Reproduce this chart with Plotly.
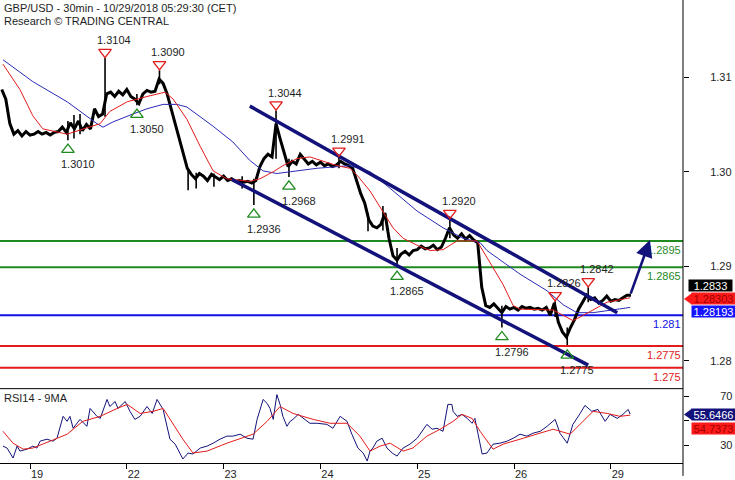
import plotly.graph_objects as go

FONT = "Arial, Liberation Sans, sans-serif"

# ---------------- data ----------------
title_line1 = "GBP/USD - 30min - 10/29/2018 05:29:30 (CET)"
title_line2 = "Research © TRADING CENTRAL"
rsi_title = "RSI14 - 9MA"

day_ticks = [0, 24, 48, 72, 96, 120, 144]          # session hours
day_labels = ["19", "22", "23", "24", "25", "26", "29"]

price_tick_vals = [1.3082, 1.2974, 1.2866, 1.2758]
price_tick_labels = ["1.31", "1.30", "1.29", "1.28"]

# hourly closes (session hours from the 19th)
price_hours = list(range(-7, 150))
price_close = [
    1.3068, 1.3057, 1.3029, 1.3017, 1.3021, 1.3015, 1.3020,
    1.3016, 1.3017, 1.3020, 1.3017, 1.3019, 1.3016, 1.3019, 1.3020, 1.3025, 1.3019,
    1.3030, 1.3023, 1.3032, 1.3021, 1.3028, 1.3023, 1.3046, 1.3037, 1.3040, 1.3063,
    1.3065, 1.3060, 1.3066, 1.3062, 1.3068, 1.3060, 1.3057, 1.3052, 1.3063, 1.3067,
    1.3065, 1.3066, 1.3080, 1.3075, 1.3063, 1.3046, 1.3029, 1.3012, 1.2995, 1.2978,
    1.2971, 1.2966, 1.2972, 1.2969, 1.2964, 1.2971, 1.2968, 1.2965, 1.2969, 1.2964,
    1.2966, 1.2963, 1.2964, 1.2962, 1.2963, 1.2961, 1.2964, 1.2980, 1.2989, 1.2994,
    1.2991, 1.3029, 1.3012, 1.2995, 1.2980, 1.2986, 1.2983, 1.2994, 1.2989, 1.2983,
    1.2986, 1.2982, 1.2985, 1.2981, 1.2983, 1.2980, 1.2982, 1.2986, 1.2983, 1.2981,
    1.2978, 1.2964, 1.2949, 1.2938, 1.2919, 1.2912, 1.2910, 1.2914, 1.2927, 1.2898,
    1.2878, 1.2873, 1.2880, 1.2883, 1.2879, 1.2884, 1.2885, 1.2889, 1.2886, 1.2887,
    1.2890, 1.2885, 1.2888, 1.2898, 1.2910, 1.2902, 1.2898, 1.2903, 1.2897, 1.2901,
    1.2896, 1.2893, 1.2842, 1.2821, 1.2819, 1.2823, 1.2818, 1.2813, 1.2820, 1.2817,
    1.2819, 1.2816, 1.2820, 1.2818, 1.2819, 1.2817, 1.2818, 1.2816, 1.2819, 1.2810,
    1.2824, 1.2802, 1.2791, 1.2785, 1.2796, 1.2805, 1.2817, 1.2825, 1.2833, 1.2828,
    1.2830, 1.2824, 1.2827, 1.2832, 1.2826, 1.2828, 1.2827, 1.2830, 1.2833, 1.2833,
]

# bar wicks (hour, high, low)
wick_hours = [9.4, 10.9, 12.4, 18.6, 26.5, 32.1, 39.2, 41.2, 45.6, 52.6, 55.5,
              61.0, 64.2, 76.6, 83.8, 87.5, 91.0, 104.1, 117.0, 130.2, 133.2, 138.4]
wick_high = [1.3032, 1.3039, 1.3040, 1.3104, 1.3063, 1.3090, 1.2978, 1.2973, 1.2972, 1.2969, 1.2966,
             1.3044, 1.2989, 1.2991, 1.2927, 1.2935, 1.2887, 1.2920, 1.2821, 1.2826, 1.2796, 1.2842]
wick_low = [1.3010, 1.3012, 1.3017, 1.3037, 1.3050, 1.3074, 1.2953, 1.2955, 1.2957, 1.2955, 1.2936,
            1.2989, 1.2968, 1.2978, 1.2906, 1.2907, 1.2865, 1.2898, 1.2796, 1.2808, 1.2776, 1.2825]

# moving averages
ma_fast_hours = [-6.7, -2.5, 0.7, 3.2, 9.2, 14.9, 17.4, 19.8, 24.1, 29.0, 33.5, 35.5, 38.9, 42.2,
                 45.4, 48.8, 54.5, 57.0, 60.3, 62.7, 66.2, 69.4, 72.7, 76.1, 79.3, 81.1, 84.3,
                 87.5, 90.0, 92.5, 96.0, 99.2, 102.4, 105.9, 110.8, 113.3, 117.3, 119.8, 121.5,
                 129.7, 132.2, 134.6, 136.4, 139.6, 143.1, 148.8]
ma_fast = [1.3097, 1.3068, 1.3038, 1.3023, 1.3017, 1.3025, 1.3029, 1.3043, 1.3054, 1.3060, 1.3065,
           1.3057, 1.3034, 1.3003, 1.2975, 1.2966, 1.2963, 1.2966, 1.2974, 1.2981, 1.2989, 1.2991,
           1.2986, 1.2981, 1.2978, 1.2970, 1.2952, 1.2929, 1.2910, 1.2898, 1.2890, 1.2884, 1.2885,
           1.2895, 1.2895, 1.2876, 1.2845, 1.2821, 1.2817, 1.2816, 1.2810, 1.2804, 1.2808, 1.2816,
           1.2825, 1.2830]
ma_slow_hours = [-6.7, 0.7, 9.2, 14.1, 16.6, 18.1, 20.6, 25.5, 29.0, 33.0, 36.4, 38.9, 45.4, 50.3,
                 54.5, 57.8, 61.2, 64.5, 71.2, 79.3, 84.3, 89.3, 96.0, 102.4, 107.4, 111.6, 113.3,
                 121.5, 128.2, 132.2, 135.6, 139.6, 144.6, 148.8]
ma_slow = [1.3102, 1.3077, 1.3054, 1.3037, 1.3029, 1.3025, 1.3031, 1.3040, 1.3046, 1.3051, 1.3051,
           1.3048, 1.3026, 1.3008, 1.2987, 1.2975, 1.2972, 1.2974, 1.2978, 1.2981, 1.2974, 1.2955,
           1.2929, 1.2910, 1.2898, 1.2893, 1.2884, 1.2857, 1.2838, 1.2822, 1.2813, 1.2813, 1.2816,
           1.2819]

# pivots
pivot_high_hours = [18.6, 32.1, 61.0, 76.6, 104.1, 130.2, 138.4]
pivot_high_values = [1.3104, 1.3090, 1.3044, 1.2991, 1.2920, 1.2826, 1.2842]
pivot_low_hours = [9.4, 26.5, 55.5, 64.2, 91.0, 117.0, 133.2]
pivot_low_values = [1.3010, 1.3050, 1.2936, 1.2968, 1.2865, 1.2796, 1.2775]

# channel (start/end hours and prices)
channel_upper_hours = [54.5, 145.6]
channel_upper_prices = [1.3049, 1.2813]
channel_lower_hours = [50.1, 138.4]
channel_lower_prices = [1.2965, 1.2753]

forecast_hours = [148.8, 153.7]
forecast_prices = [1.2833, 1.2896]

levels = [1.2895, 1.2865, 1.281, 1.2775, 1.275]
level_labels = ["1.2895", "1.2865", "1.281", "1.2775", "1.275"]

last_price_label = "1.2833"
ma_fast_label = "1.28303"
ma_slow_label = "1.28193"
rsi_label = "55.6466"
rsi_ma_label = "54.7373"

# RSI
rsi_hours = [-6.7, -5.7, -4.2, -3.2, -2.5, -0.7, 0.7, 1.7, 2.5, 4.2, 5.7, 6.7, 8.2, 9.2, 9.9, 10.7,
             12.4, 14.1, 14.9, 16.6, 17.4, 19.1, 19.8, 21.1, 21.8, 23.6, 24.8, 26.0, 27.3, 29.0,
             30.3, 31.5, 33.0, 34.0, 34.7, 36.0, 37.2, 37.9, 39.2, 40.4, 42.2, 43.9, 45.4, 47.1,
             48.8, 50.3, 52.1, 53.8, 55.3, 56.3, 57.8, 58.8, 59.5, 60.3, 61.2, 62.0, 62.7, 63.7,
             64.5, 65.2, 66.5, 67.7, 69.4, 71.2, 73.6, 75.1, 76.9, 78.6, 79.8, 81.3, 82.6, 83.6,
             84.3, 85.0, 86.0, 87.3, 88.5, 89.8, 91.0, 92.5, 94.2, 96.0, 97.2, 98.4, 99.7, 100.9,
             102.4, 103.6, 104.6, 104.9, 105.9, 107.1, 108.4, 109.6, 110.3, 111.1, 112.1, 113.3,
             114.8, 116.5, 118.3, 119.8, 121.5, 123.2, 124.7, 126.5, 128.2, 130.2, 131.4, 133.2,
             134.6, 136.4, 137.6, 139.3, 140.8, 142.6, 143.8, 145.6, 147.0, 148.3, 148.8]
rsi_values = [29.2, 27.6, 19.4, 29.2, 25.1, 26.7, 29.2, 27.6, 33.3, 34.9, 33.3, 35.7, 53.7, 49.6,
              53.7, 43.9, 51.2, 45.5, 60.2, 53.7, 52.0, 67.6, 61.8, 65.9, 60.2, 65.9, 57.8, 51.2,
              53.7, 61.8, 56.1, 67.6, 59.4, 45.5, 34.9, 30.8, 23.5, 18.6, 23.5, 22.7, 27.6, 29.2,
              31.6, 34.9, 37.4, 37.4, 39.0, 35.7, 34.9, 51.2, 67.6, 64.3, 60.2, 51.2, 71.6, 63.5,
              53.7, 45.5, 49.6, 51.2, 55.3, 52.0, 48.0, 48.0, 47.1, 43.9, 53.7, 49.6, 39.0, 27.6,
              23.5, 16.9, 25.1, 27.6, 33.3, 35.7, 27.6, 23.5, 21.0, 27.6, 30.8, 35.7, 41.4, 47.1,
              43.1, 43.9, 41.4, 63.5, 63.5, 57.8, 53.7, 55.3, 52.0, 48.0, 52.0, 39.0, 22.7, 23.5,
              30.8, 31.6, 33.3, 35.7, 39.0, 37.4, 39.8, 41.4, 45.5, 51.2, 39.8, 31.6, 47.1, 56.1,
              62.7, 57.8, 59.4, 49.6, 55.3, 52.0, 55.3, 59.4, 55.6]
rsi_ma_hours = [-6.7, -4.2, -1.7, 0.7, 5.0, 9.2, 13.1, 17.4, 21.6, 24.1, 27.3, 30.5, 33.0, 35.5,
                37.9, 40.4, 43.9, 48.8, 55.3, 58.8, 62.0, 65.2, 70.2, 74.4, 78.6, 81.8, 84.3,
                86.8, 89.3, 92.5, 94.9, 98.4, 101.7, 104.9, 107.1, 109.6, 111.6, 114.8, 117.3,
                121.5, 126.5, 129.7, 133.9, 136.4, 139.6, 143.1, 146.3, 148.8]
rsi_ma_values = [41.4, 31.6, 26.7, 27.6, 33.3, 39.0, 49.6, 53.7, 60.2, 63.5, 56.1, 57.8, 60.2, 47.1,
                 34.9, 23.5, 25.1, 31.6, 39.0, 49.6, 61.8, 56.1, 51.2, 48.0, 48.0, 37.4, 25.1, 29.2,
                 31.6, 25.1, 27.6, 37.4, 43.1, 49.6, 55.3, 52.0, 41.4, 26.7, 30.8, 34.9, 39.8, 43.1,
                 39.0, 47.1, 57.8, 56.1, 53.7, 54.7]

# ---------------- styling / layout constants ----------------
W, H = 735, 480
M_R, M_B = 52, 13
PLOT_W = W - M_R            # 683
PLOT_H = H - M_B            # 467
MAIN_H = 391
RSI_TOP = 392
X_RANGE = [-7.44, 161.9]
Y_RANGE = [1.27273, 1.31703]
RSI_RANGE = [15.3, 76.5]
PX = (Y_RANGE[1] - Y_RANGE[0]) / MAIN_H      # price per pixel

BLACK = "#000000"
NAVY = "#12127a"
RED = "#e31b1b"
GREEN = "#1f8a1f"
BLUE = "#1010e6"
MA_BLUE = "#2a2ab8"
TXT = "#1e1e1e"
level_colors = [GREEN, GREEN, BLUE, RED, RED]

fig = go.Figure()

# price line
fig.add_trace(go.Scatter(x=price_hours, y=price_close, mode="lines",
                         line=dict(color=BLACK, width=3), xaxis="x", yaxis="y",
                         hoverinfo="skip"))
# wicks
wx, wy = [], []
for h, hi, lo in zip(wick_hours, wick_high, wick_low):
    wx += [h, h, None]
    wy += [hi, lo, None]
fig.add_trace(go.Scatter(x=wx, y=wy, mode="lines", line=dict(color=BLACK, width=1.6),
                         xaxis="x", yaxis="y", hoverinfo="skip"))
# moving averages
fig.add_trace(go.Scatter(x=ma_slow_hours, y=ma_slow, mode="lines", line=dict(color=MA_BLUE, width=1),
                         xaxis="x", yaxis="y", hoverinfo="skip"))
fig.add_trace(go.Scatter(x=ma_fast_hours, y=ma_fast, mode="lines", line=dict(color=RED, width=1),
                         xaxis="x", yaxis="y", hoverinfo="skip"))
# channel
fig.add_trace(go.Scatter(x=channel_upper_hours, y=channel_upper_prices, mode="lines",
                         line=dict(color=NAVY, width=3.5), xaxis="x", yaxis="y", hoverinfo="skip"))
fig.add_trace(go.Scatter(x=channel_lower_hours, y=channel_lower_prices, mode="lines",
                         line=dict(color=NAVY, width=3.5), xaxis="x", yaxis="y", hoverinfo="skip"))
# pivot markers
fig.add_trace(go.Scatter(x=pivot_high_hours, y=[v + 6 * PX for v in pivot_high_values], mode="markers",
                         marker=dict(symbol="triangle-down-open", size=11, color=RED,
                                     line=dict(width=1.3, color=RED)),
                         xaxis="x", yaxis="y", hoverinfo="skip"))
fig.add_trace(go.Scatter(x=pivot_low_hours, y=[v - 9.5 * PX for v in pivot_low_values], mode="markers",
                         marker=dict(symbol="triangle-up-open", size=11, color=GREEN,
                                     line=dict(width=1.3, color=GREEN)),
                         xaxis="x", yaxis="y", hoverinfo="skip"))
# RSI
fig.add_trace(go.Scatter(x=rsi_hours, y=rsi_values, mode="lines", line=dict(color=NAVY, width=1),
                         xaxis="x2", yaxis="y2", hoverinfo="skip"))
fig.add_trace(go.Scatter(x=rsi_ma_hours, y=rsi_ma_values, mode="lines", line=dict(color=RED, width=1),
                         xaxis="x2", yaxis="y2", hoverinfo="skip"))

shapes = []
for lv, col in zip(levels, level_colors):
    shapes.append(dict(type="line", xref="x domain", yref="y", x0=0, x1=1, y0=lv, y1=lv,
                       line=dict(color=col, width=2), layer="below"))
# right axis line (full height)
shapes.append(dict(type="line", xref="paper", yref="paper", x0=1, x1=1, y0=-M_B / PLOT_H, y1=1,
                   line=dict(color=BLACK, width=1)))
# RSI panel top border
shapes.append(dict(type="line", xref="paper", yref="y2 domain", x0=0, x1=1, y0=1, y1=1,
                   line=dict(color=BLACK, width=1)))


def px_x(p):
    return p / PLOT_W


def px_y(p):
    return (PLOT_H - p) / PLOT_H


# pointer arrows for value boxes
for cy, col in [(301.5, "#ff1a1a"), (418, NAVY)]:
    shapes.append(dict(type="path", xref="paper", yref="paper",
                       path=f"M {px_x(684)},{px_y(cy)} L {px_x(692)},{px_y(cy - 6)} L {px_x(692)},{px_y(cy + 6)} Z",
                       fillcolor=col, line=dict(width=0)))

ann = []
ann.append(dict(xref="paper", yref="paper", x=0, y=1, xanchor="left", yanchor="top", xshift=2,
                text=title_line1, showarrow=False, font=dict(size=11, color=TXT)))
ann.append(dict(xref="paper", yref="paper", x=0, y=1, xanchor="left", yanchor="top", xshift=2, yshift=-13,
                text=title_line2, showarrow=False, font=dict(size=11, color=TXT)))
ann.append(dict(xref="paper", yref="y2 domain", x=0, y=1, xanchor="left", yanchor="top", xshift=2, yshift=-1,
                text=rsi_title, showarrow=False, font=dict(size=11, color=TXT)))

for h, v in zip(pivot_high_hours, pivot_high_values):
    ann.append(dict(x=h, y=v, xref="x", yref="y", text=f"{v:.4f}", showarrow=False,
                    xshift=9, yshift=18, font=dict(size=11, color=TXT)))
for h, v in zip(pivot_low_hours, pivot_low_values):
    ann.append(dict(x=h, y=v, xref="x", yref="y", text=f"{v:.4f}", showarrow=False,
                    xshift=10, yshift=-24, font=dict(size=11, color=TXT)))

for lv, lab, col in zip(levels, level_labels, level_colors):
    ann.append(dict(xref="paper", yref="y", x=1, y=lv, xanchor="right", yanchor="top", xshift=0, yshift=-1,
                    text=lab, showarrow=False, font=dict(size=11, color=col)))

# forecast arrow
ann.append(dict(x=forecast_hours[1], y=forecast_prices[1], ax=forecast_hours[0], ay=forecast_prices[0],
                xref="x", yref="y", axref="x", ayref="y", text="", showarrow=True,
                arrowhead=2, arrowsize=1.3, arrowwidth=2.6, arrowcolor=NAVY))

# value boxes
for text, cx, cy, bg, fc in [(last_price_label, 711, 288, BLACK, "white"),
                             (ma_fast_label, 713.5, 301.5, "#ff1a1a", "#a00000"),
                             (ma_slow_label, 713, 314.5, "#1414ff", "white"),
                             (rsi_label, 713.5, 418, NAVY, "white"),
                             (rsi_ma_label, 713, 432.5, "#ff1a1a", "#a00000")]:
    ann.append(dict(xref="paper", yref="paper", x=px_x(cx), y=px_y(cy), xanchor="center", yanchor="middle",
                    text=text, showarrow=False, bgcolor=bg, font=dict(size=11, color=fc),
                    width=43, height=11, borderpad=0))

fig.update_layout(
    width=W, height=H, margin=dict(l=0, r=M_R, t=0, b=M_B),
    plot_bgcolor="white", paper_bgcolor="white", showlegend=False,
    font=dict(family=FONT, size=11, color=TXT),
    shapes=shapes, annotations=ann,
    xaxis=dict(domain=[0, 1], anchor="y", range=X_RANGE, showticklabels=False, ticks="",
               showline=False, showgrid=False, zeroline=False),
    xaxis2=dict(domain=[0, 1], anchor="y2", matches="x", range=X_RANGE, tickmode="array",
                tickvals=day_ticks, ticktext=day_labels, ticks="outside", ticklen=5, tickcolor=BLACK,
                showline=True, linecolor=BLACK, linewidth=1, showgrid=False, zeroline=False,
                ticklabelshift=7, ticklabelstandoff=-4, tickfont=dict(size=11, color=TXT)),
    yaxis=dict(domain=[(PLOT_H - MAIN_H) / PLOT_H, 1], anchor="x", range=Y_RANGE, side="right",
               tickmode="array", tickvals=price_tick_vals, ticktext=price_tick_labels,
               ticks="outside", ticklen=5, tickcolor=BLACK, showline=False, showgrid=False,
               zeroline=False, ticklabelstandoff=19, tickfont=dict(size=11, color=TXT)),
    yaxis2=dict(domain=[0, (PLOT_H - RSI_TOP) / PLOT_H], anchor="x2", range=RSI_RANGE, side="right",
                tickmode="array", tickvals=[30, 50, 70], ticktext=["30", "", "70"],
                ticks="outside", ticklen=5, tickcolor=BLACK, showline=False, showgrid=False,
                zeroline=False, ticklabelstandoff=29, tickfont=dict(size=11, color=TXT)),
)

fig.write_html("out.html", config={"displayModeBar": False},
               post_script="document.body.style.margin='0';document.body.style.overflow='hidden';")
